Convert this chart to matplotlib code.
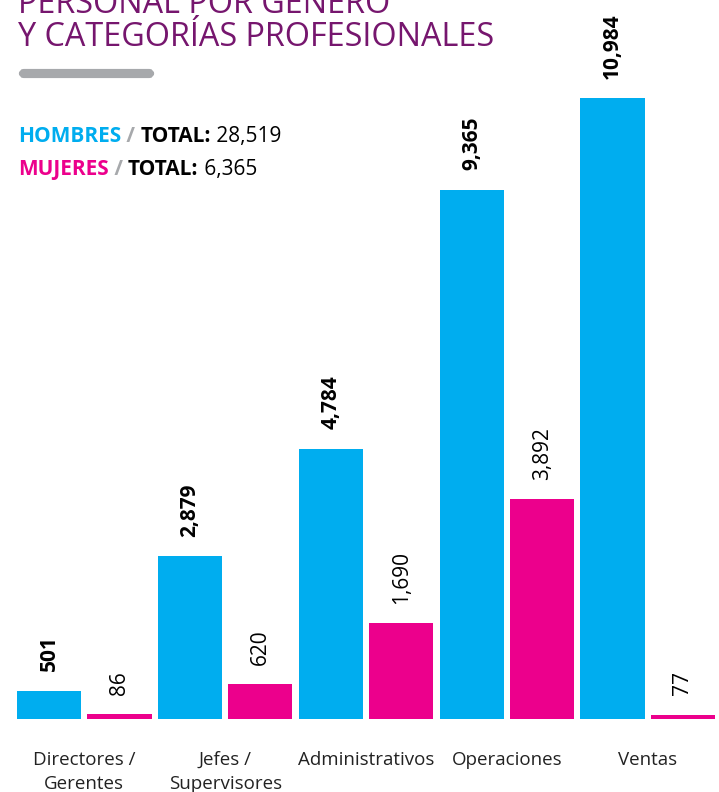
import matplotlib
matplotlib.use('Agg')
import matplotlib.pyplot as plt
from matplotlib.patches import FancyBboxPatch

plt.rcParams['font.family'] = ['Open Sans', 'DejaVu Sans']

# data
categorias = ['Directores /\nGerentes', 'Jefes /\nSupervisores', 'Administrativos', 'Operaciones', 'Ventas']
hombres = [501, 2879, 4784, 9365, 10984]
mujeres = [86, 620, 1690, 3892, 77]
total_hombres = '28,519'
total_mujeres = '6,365'

azul = '#00adef'
rosa = '#ec008c'
morado = '#76166e'
gris = '#a7a9ac'

W, H = 719, 792
fig = plt.figure(figsize=(W / 100, H / 100), dpi=100)

# axes placed in pixel coords: baseline y=719, top of tallest bar y=98
x0, x1 = 17, 715
y_base, y_top = 719, 98
ax = fig.add_axes([x0 / W, (H - y_base) / H, (x1 - x0) / W, (y_base - y_top) / H])

ancho = 0.91
pos_h = [2 * i for i in range(len(categorias))]
pos_m = [2 * i + 1 for i in range(len(categorias))]
ax.bar(pos_h, hombres, width=ancho, color=azul)
ax.bar(pos_m, mujeres, width=ancho, color=rosa)
ax.set_xlim(-ancho / 2, pos_m[-1] + ancho / 2)
ax.set_ylim(0, max(hombres))
ax.axis('off')

# value labels
for x, v in zip(pos_h, hombres):
    ax.annotate(f'{v:,}', (x, v), xytext=(0, 14), textcoords='offset points',
                rotation=90, ha='center', va='bottom', fontsize=15,
                fontweight='bold', color='black', annotation_clip=False)
for x, v in zip(pos_m, mujeres):
    ax.annotate(f'{v:,}', (x, v), xytext=(0, 14), textcoords='offset points',
                rotation=90, ha='center', va='bottom', fontsize=15,
                color='black', annotation_clip=False)

# category labels
for i, c in enumerate(categorias):
    ax.annotate(c, ((pos_h[i] + pos_m[i]) / 2, 0), xytext=(0, -23),
                textcoords='offset points', ha='center', va='top',
                fontsize=13.5, color='#222222', linespacing=1.45,
                annotation_clip=False)

# title
fig.text(18 / W, 1 - 46 / H, 'PERSONAL POR GÉNERO\nY CATEGORÍAS PROFESIONALES',
         fontsize=23.3, color=morado, ha='left', va='baseline', linespacing=1.0)

# gray rule
fig.patches.append(FancyBboxPatch((21 / W, 1 - 76 / H), 131 / W, 5 / H,
                                  boxstyle='round,pad=0,rounding_size=0.004',
                                  transform=fig.transFigure, color=gris, lw=3))

# legend lines built piece by piece
fig.canvas.draw()
renderer = fig.canvas.get_renderer()


def linea(y_px, piezas):
    x = 18
    for txt, col, bold in piezas:
        t = fig.text(x / W, 1 - y_px / H, txt, fontsize=15, color=col,
                     fontweight='bold' if bold else 'normal', va='baseline')
        x += t.get_window_extent(renderer).width


linea(142, [('HOMBRES', azul, True), (' / ', gris, True), ('TOTAL:', 'black', True),
            (' ' + total_hombres, 'black', False)])
linea(175, [('MUJERES', rosa, True), (' / ', gris, True), ('TOTAL:', 'black', True),
            (' ' + total_mujeres, 'black', False)])

fig.savefig('out.png', dpi=100)
